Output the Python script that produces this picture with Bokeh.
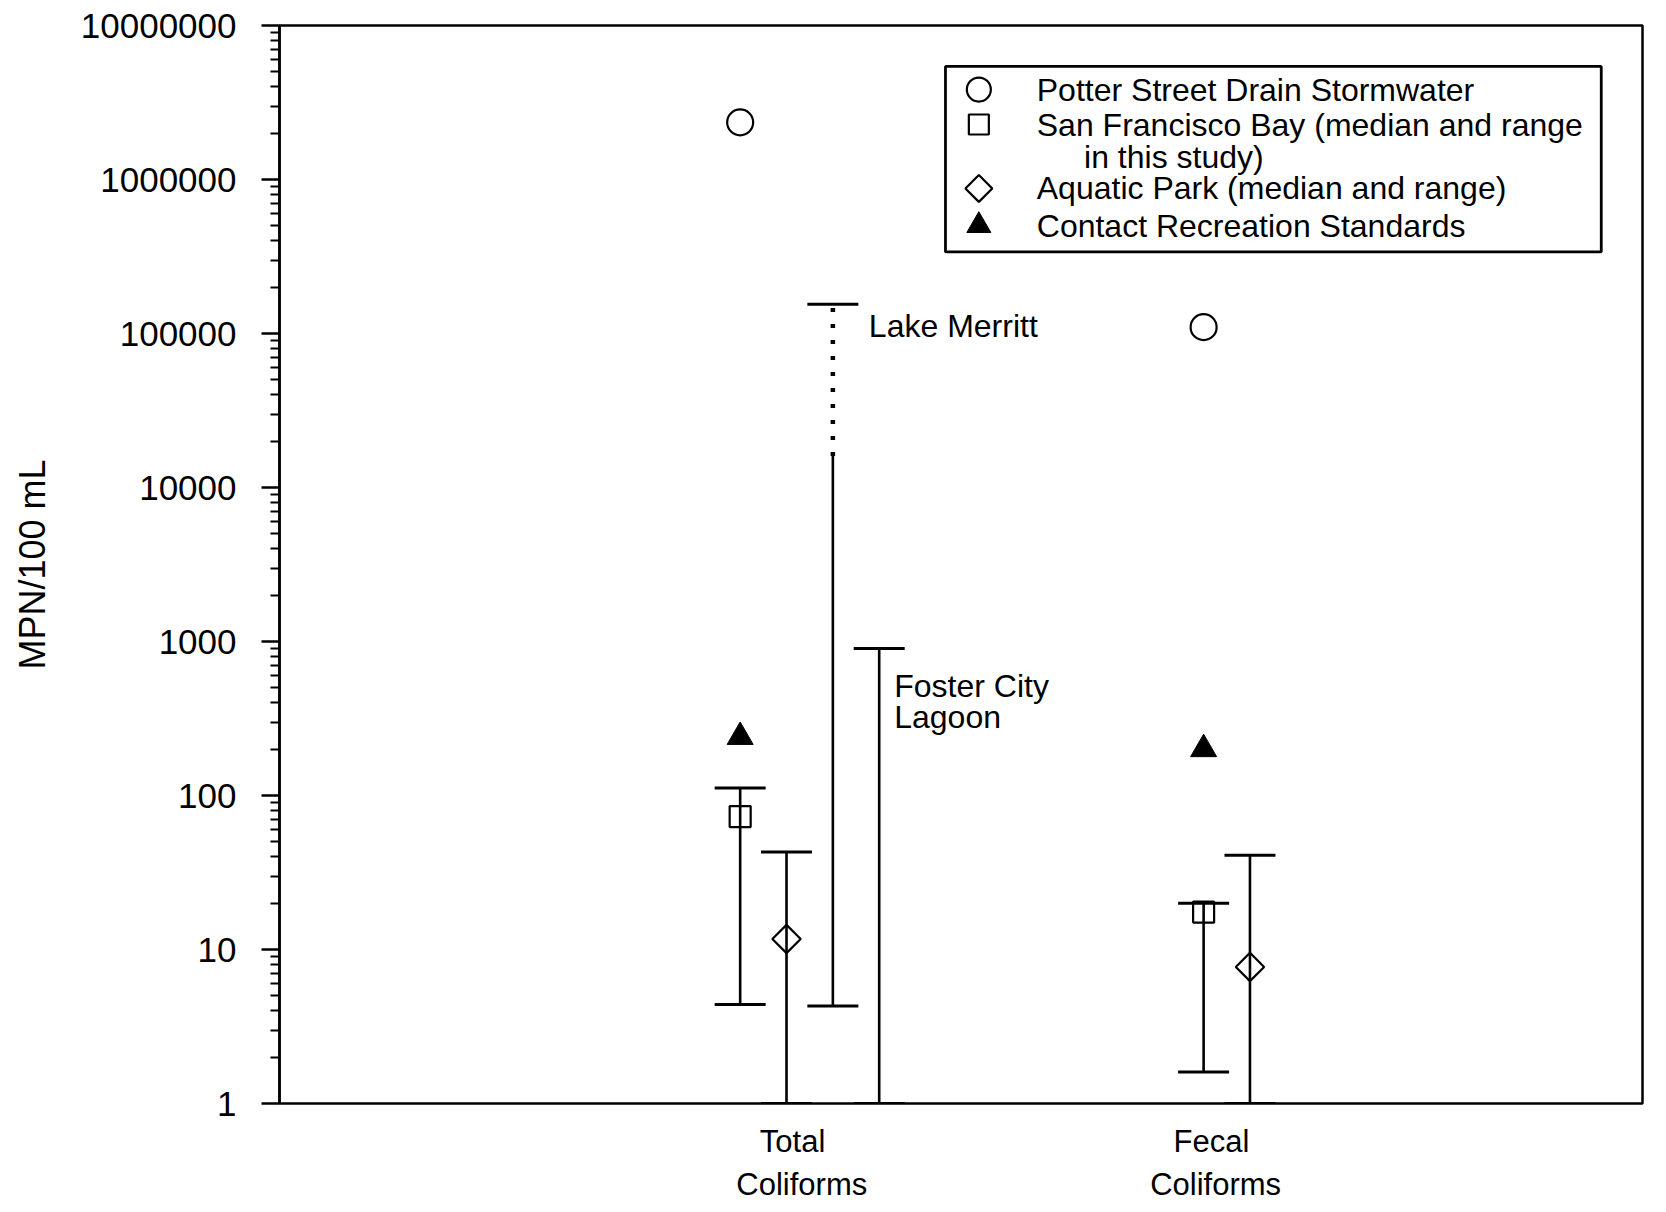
import math
from bokeh.plotting import figure
from bokeh.models import (Range1d, FixedTicker, PrintfTickFormatter, Label, BoxAnnotation,
                          LinearAxis, CustomJSTickFormatter)
from bokeh.embed import file_html
from bokeh.resources import INLINE

# ---------------- data (MPN/100 mL) ----------------
category_names = ["Total", "Fecal"]
category_second_line = ["Coliforms", "Coliforms"]
category_x = [1, 2]

potter_street = [2350000, 110000]          # Potter Street Drain Stormwater
sf_bay_median = [73, 17.5]                 # San Francisco Bay, this study
sf_bay_low = [4.4, 1.6]
sf_bay_high = [112, 20]
aquatic_median = [11.7, 7.7]               # Aquatic Park
aquatic_low = [1, 1]
aquatic_high = [43, 41]
standards = [240, 200]                     # Contact Recreation Standards

lake_merritt_range = [4.3, 16000, 155000]  # low, top of solid part, high (Total only)
foster_city_range = [1, 900]               # Total only

y_ticks = [1, 10, 100, 1000, 10000, 100000, 1000000, 10000000]
y_minor = [m * 10 ** k for k in range(7) for m in range(2, 10)]

legend_labels = ["Potter Street Drain Stormwater",
                 "San Francisco Bay (median and range",
                 "in this study)",
                 "Aquatic Park (median and range)",
                 "Contact Recreation Standards"]

# ---------------- layout constants ----------------
AQ_OFF, LM_OFF, FC_OFF = 0.1, 0.2, 0.3
CAP = 0.055
FONT = "Liberation Sans"
LW = 2.6

p = figure(width=1650, height=1204, y_axis_type="log", x_axis_location=None,
           x_range=Range1d(0.006, 2.947), y_range=Range1d(1, 1e7),
           output_backend="svg", toolbar_location=None,
           min_border_left=279, min_border_right=8,
           min_border_top=25, min_border_bottom=101)
p.xgrid.visible = False
p.ygrid.visible = False
p.outline_line_color = "black"
p.outline_line_width = 2.5
p.outline_line_alpha = 1.0
p.background_fill_color = "white"
p.border_fill_color = "white"

ax = p.yaxis[0]
ax.ticker = FixedTicker(ticks=y_ticks, minor_ticks=y_minor)
ax.formatter = PrintfTickFormatter(format="%d")
ax.major_label_text_font = FONT
ax.major_label_text_font_size = "35px"
ax.major_label_text_color = "black"
ax.major_tick_out = 18
ax.major_tick_in = 0
ax.minor_tick_out = 9
ax.minor_tick_in = 0
ax.major_tick_line_width = 2.5
ax.minor_tick_line_width = 2.2
ax.major_tick_line_color = "black"
ax.minor_tick_line_color = "black"
ax.axis_line_width = 2.5
ax.axis_line_color = "black"
ax.major_label_standoff = 25
ax.axis_label = "MPN/100 mL"
ax.axis_label_text_font = FONT
ax.axis_label_text_font_size = "36px"
ax.axis_label_text_font_style = "normal"
ax.axis_label_text_color = "black"
ax.axis_label_standoff = 25


# category labels: two text-only axes below the frame
def category_axis(ticks, texts, standoff):
    a = LinearAxis(ticker=FixedTicker(ticks=ticks, minor_ticks=[]),
                   formatter=CustomJSTickFormatter(args=dict(texts=texts),
                                                   code="return tick < 1.5 ? texts[0] : texts[1];"))
    a.axis_line_color = None
    a.major_tick_line_color = None
    a.minor_tick_line_color = None
    a.major_tick_out = 0
    a.major_tick_in = 0
    a.minor_tick_out = 0
    a.minor_tick_in = 0
    a.major_label_standoff = standoff
    a.major_label_text_font = FONT
    a.major_label_text_font_size = "31px"
    a.major_label_text_color = "black"
    return a


p.add_layout(category_axis([1.113, 2.017], category_names, 20), "below")
p.add_layout(category_axis([1.133, 2.026], category_second_line, 5), "below")


def whisker(x, lo, hi):
    p.segment(x0=[x], y0=[lo], x1=[x], y1=[hi], line_color="black", line_width=LW)
    for v in (lo, hi):
        p.segment(x0=[x - CAP], y0=[v], x1=[x + CAP], y1=[v], line_color="black", line_width=LW + 0.4)


# ranges
for i, x in enumerate(category_x):
    whisker(x, sf_bay_low[i], sf_bay_high[i])
    whisker(x + AQ_OFF, aquatic_low[i], aquatic_high[i])

# Lake Merritt (Total coliforms)
lm_x = category_x[0] + LM_OFF
p.segment(x0=[lm_x], y0=[lake_merritt_range[0]], x1=[lm_x], y1=[lake_merritt_range[1]],
          line_color="black", line_width=LW)
p.segment(x0=[lm_x], y0=[lake_merritt_range[1]], x1=[lm_x], y1=[lake_merritt_range[2]],
          line_color="black", line_width=4.5, line_dash="4 12")
for v in (lake_merritt_range[0], lake_merritt_range[2]):
    p.segment(x0=[lm_x - CAP], y0=[v], x1=[lm_x + CAP], y1=[v], line_color="black", line_width=LW + 0.4)

# Foster City Lagoon (Total coliforms)
fc_x = category_x[0] + FC_OFF
whisker(fc_x, foster_city_range[0], foster_city_range[1])

# markers
p.scatter(category_x, potter_street, marker="circle", size=26, fill_color="white",
          line_color="black", line_width=2.2)
p.scatter(category_x, sf_bay_median, marker="square", size=21, fill_alpha=0,
          line_color="black", line_width=2.2)
p.scatter([x + AQ_OFF for x in category_x], aquatic_median, marker="square", angle=math.pi / 4,
          size=20, fill_alpha=0, line_color="black", line_width=2.2)
p.scatter(category_x, standards, marker="triangle", size=26, fill_color="black",
          line_color="black")

# site annotations
txt = dict(text_font=FONT, text_font_size="32px", text_color="black", text_baseline="middle")
p.add_layout(Label(x=lm_x, y=lake_merritt_range[2], x_offset=36, y_offset=-22,
                   text="Lake Merritt", **txt))
p.add_layout(Label(x=fc_x, y=foster_city_range[1], x_offset=15, y_offset=-37,
                   text="Foster City", **txt))
p.add_layout(Label(x=fc_x, y=foster_city_range[1], x_offset=15, y_offset=-68,
                   text="Lagoon", **txt))

# legend (drawn by hand to allow a two-line entry)
LEG_LEFT, LEG_RIGHT = 1.443, 2.858
LEG_TOP, LEG_BOTTOM = 10 ** 6.734, 10 ** 5.53
LEG_MARK_X = 1.515
LEG_TEXT_X = 1.640
LEG_INDENT_X = 1.742
leg_rows = [10 ** 6.584, 10 ** 6.357, 10 ** 6.149, 10 ** 5.942, 10 ** 5.701]

p.add_layout(BoxAnnotation(left=LEG_LEFT, right=LEG_RIGHT, top=LEG_TOP, bottom=LEG_BOTTOM,
                           fill_alpha=0, line_color="black", line_width=2.8, line_alpha=1))
p.scatter([LEG_MARK_X], [leg_rows[0]], marker="circle", size=24, fill_color="white",
          line_color="black", line_width=2.2)
p.scatter([LEG_MARK_X], [leg_rows[1]], marker="square", size=20, fill_color="white",
          line_color="black", line_width=2.2)
p.scatter([LEG_MARK_X], [leg_rows[3]], marker="square", angle=math.pi / 4, size=19,
          fill_color="white", line_color="black", line_width=2.2)
p.scatter([LEG_MARK_X], [leg_rows[4]], marker="triangle", size=24, fill_color="black",
          line_color="black")
for i, (lab, row) in enumerate(zip(legend_labels, leg_rows)):
    p.add_layout(Label(x=LEG_INDENT_X if i == 2 else LEG_TEXT_X, y=row, text=lab, **txt))

open("out.html", "w").write(file_html(p, INLINE))
